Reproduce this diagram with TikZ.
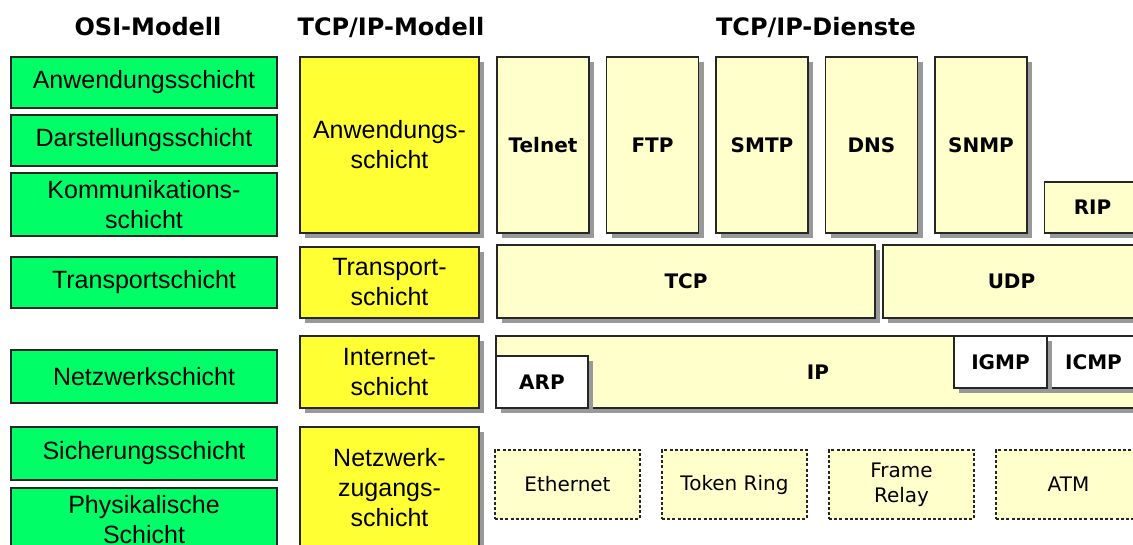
\documentclass[tikz,border=0pt]{standalone}
\usepackage{fontspec}
\setmainfont{Liberation Sans}
\newfontfamily\dejavu{DejaVu Sans}
\usetikzlibrary{positioning,shadows}
\definecolor{osigreen}{RGB}{0,255,102}
\definecolor{tcpyellow}{RGB}{255,255,51}
\definecolor{svcyellow}{RGB}{255,255,204}

\begin{document}
\begin{tikzpicture}[x=1pt,y=-1pt,
    box/.style={draw=black!85, line width=1.6pt, outer sep=0pt, inner sep=0pt, align=center},
    shade/.style={drop shadow={shadow xshift=5pt, shadow yshift=-5pt, fill=black!40, opacity=1}},
    osi/.style={box, fill=osigreen, minimum width=266pt, font=\fontsize{25}{30}\selectfont},
    tcpip/.style={box, shade, fill=tcpyellow, minimum width=179pt, font=\fontsize{25}{30}\selectfont},
    svc/.style={box, shade, fill=svcyellow, font=\dejavu\bfseries\fontsize{20}{24}\selectfont},
    proto/.style={svc, fill=white},
    netz/.style={box, fill=svcyellow, line width=1.5pt, dash pattern=on 3pt off 2.2pt, minimum width=145pt, minimum height=69pt, font=\dejavu\fontsize{20}{25}\selectfont},
    title/.style={font=\dejavu\bfseries\fontsize{24}{28}\selectfont}]
        \useasboundingbox (0,0) rectangle (1133,545);
        \clip (0,0) rectangle (1133,545);

        \node [title] (osititle) at (148,27) {OSI-Modell};
        \node [title] (tcptitle) at (391,27) {TCP/IP-Modell};
        \node [title] (dienste) at (816,27) {TCP/IP-Dienste};

        \node [osi, minimum height=51pt] (anw) at (144,82.5) {Anwendungsschicht};
        \node [osi, minimum height=51pt] (dar) at (144,140.5) {Darstellungsschicht};
        \node [osi, minimum height=63pt] (kom) at (144,204.5) {Kommunikations-\\schicht};
        \node [osi, minimum height=51pt] (tra) at (144,282.5) {Transportschicht};
        \node [osi, minimum height=53pt] (net) at (144,376.5) {Netzwerkschicht};
        \node [osi, minimum height=53pt] (sic) at (144,453.5) {Sicherungsschicht};
        \node [osi, minimum height=64pt] (phy) at (144,520) {Physikalische\\Schicht};

        \node [tcpip, minimum height=176pt] (tanw) at (389.5,145) {Anwendungs-\\schicht};
        \node [tcpip, minimum height=71pt] (ttra) at (389.5,282.5) {Transport-\\schicht};
        \node [tcpip, minimum height=72pt] (tint) at (389.5,372) {Internet-\\schicht};
        \node [tcpip, minimum height=122pt] (tnet) at (389.5,488) {Netzwerk-\\zugangs-\\schicht};

        \node [svc, minimum width=92pt, minimum height=176pt] (telnet) at (543,145) {Telnet};
        \node [svc, minimum width=92pt, minimum height=176pt, right=17.5pt of telnet] (ftp) {FTP};
        \node [svc, minimum width=92pt, minimum height=176pt, right=17.5pt of ftp] (smtp) {SMTP};
        \node [svc, minimum width=92pt, minimum height=176pt, right=17.5pt of smtp] (dns) {DNS};
        \node [svc, minimum width=92pt, minimum height=176pt, right=17.5pt of dns] (snmp) {SNMP};
        \node [svc, minimum width=96pt, minimum height=51pt, anchor=south west] (rip) at ([xshift=17.5pt]snmp.south east) {RIP};

        \node [svc, minimum width=378pt, minimum height=73pt] (tcp) at (686,281.5) {TCP};
        \node [svc, minimum width=257pt, minimum height=73pt, right=8pt of tcp] (udp) {UDP};

        \node [svc, minimum width=644pt, minimum height=72pt] (ip) at (818,372) {IP};
        \node [proto, minimum width=92pt, minimum height=52pt, anchor=south west] (arp) at (ip.south west) {ARP};
        \node [proto, minimum width=93pt, minimum height=52pt, anchor=north east] (icmp) at (ip.north east) {ICMP};
        \node [proto, minimum width=93pt, minimum height=52pt, left=0pt of icmp] (igmp) {IGMP};

        \node [netz] (ethernet) at (567.5,484.5) {Ethernet};
        \node [netz, right=22pt of ethernet] (token) {Token Ring};
        \node [netz, right=22pt of token] (frame) {Frame\\Relay};
        \node [netz, right=22pt of frame] (atm) {ATM};
    \end{tikzpicture}
\end{document}
